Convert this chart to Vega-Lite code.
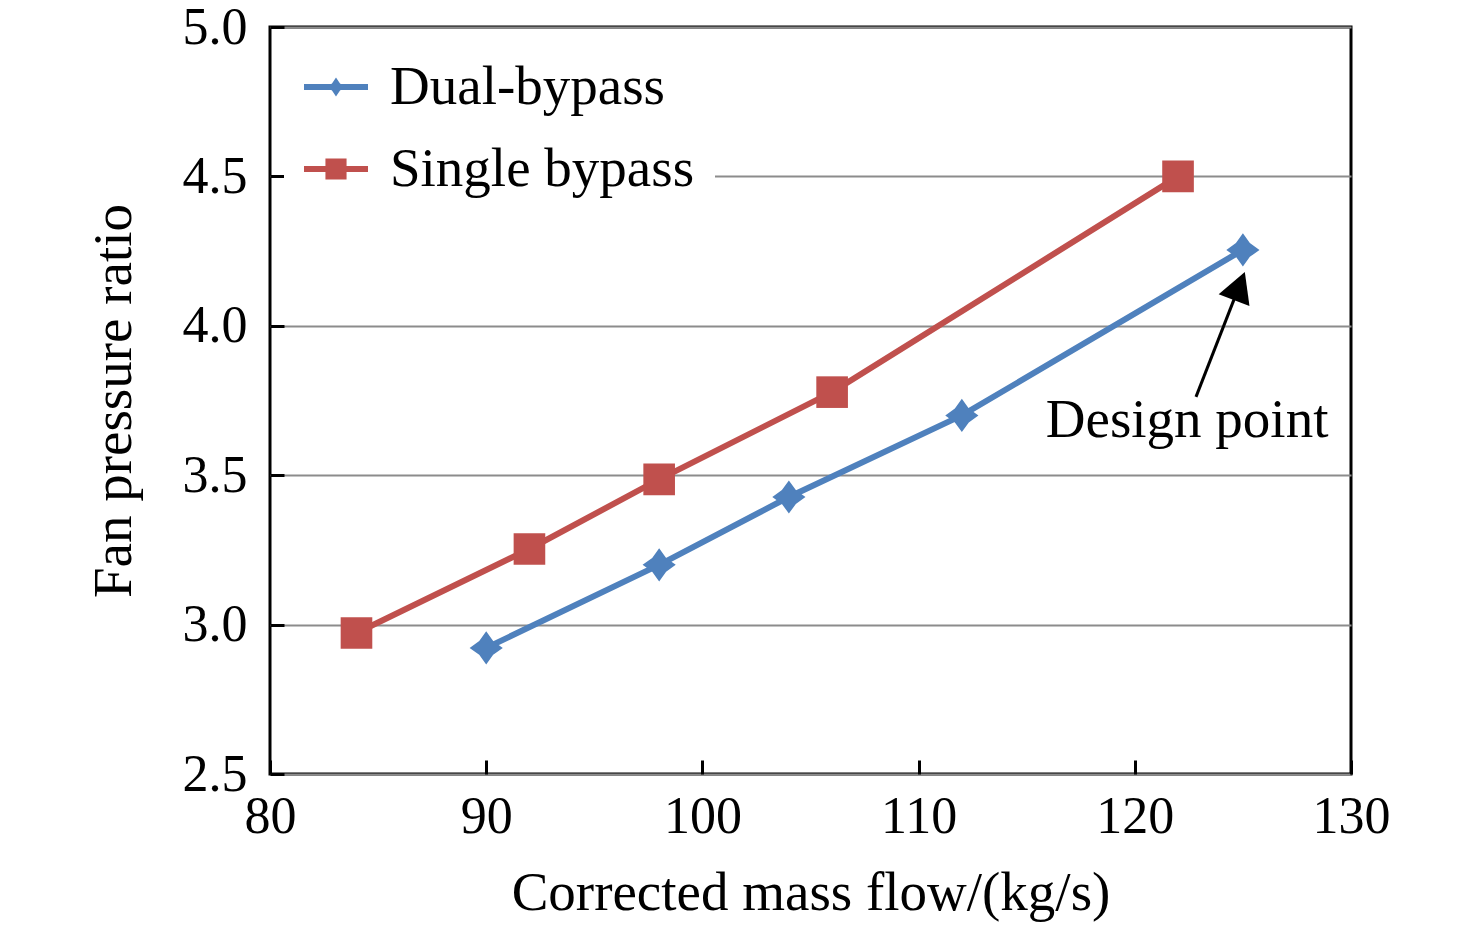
{
  "$schema": "https://vega.github.io/schema/vega-lite/v6.json",
  "autosize": {"type": "none"},
  "padding": {"left": 270, "top": 27, "right": 125, "bottom": 158},
  "width": 1081,
  "height": 747,
  "background": "white",
  "datasets": {
    "flow": [
      {"series": "Dual-bypass", "flow": 90, "ratio": 2.922},
      {"series": "Dual-bypass", "flow": 98, "ratio": 3.2},
      {"series": "Dual-bypass", "flow": 104, "ratio": 3.427},
      {"series": "Dual-bypass", "flow": 112, "ratio": 3.7},
      {"series": "Dual-bypass", "flow": 125, "ratio": 4.254},
      {"series": "Single bypass", "flow": 84, "ratio": 2.972},
      {"series": "Single bypass", "flow": 92, "ratio": 3.253},
      {"series": "Single bypass", "flow": 98, "ratio": 3.486},
      {"series": "Single bypass", "flow": 106, "ratio": 3.778},
      {"series": "Single bypass", "flow": 122, "ratio": 4.5}
    ],
    "arrow": [
      {"flow": 122.83, "ratio": 3.762},
      {"flow": 124.6, "ratio": 4.09}
    ],
    "head": [
      {"flow": 124.84, "ratio": 4.133}
    ],
    "note": [
      {"flow": 122.42, "ratio": 3.628, "label": "Design point"}
    ]
  },
  "encoding": {
    "x": {
      "field": "flow",
      "type": "quantitative",
      "scale": {"domain": [80, 130], "nice": false, "zero": false},
      "axis": {
        "title": "Corrected mass flow/(kg/s)",
        "values": [80, 90, 100, 110, 120, 130],
        "grid": false,
        "labelPadding": 31,
        "titlePadding": 24
      }
    },
    "y": {
      "field": "ratio",
      "type": "quantitative",
      "scale": {"domain": [2.5, 5.0], "nice": false, "zero": false},
      "axis": {
        "title": "Fan pressure ratio",
        "values": [2.5, 3.0, 3.5, 4.0, 4.5, 5.0],
        "format": ".1f",
        "grid": true,
        "labelPadding": 37,
        "titlePadding": 40
      }
    }
  },
  "layer": [
    {
      "data": {"name": "flow"},
      "mark": {"type": "line", "strokeWidth": 6},
      "encoding": {
        "color": {
          "field": "series",
          "type": "nominal",
          "scale": {"domain": ["Dual-bypass", "Single bypass"], "range": ["#4F81BD", "#C0504D"]},
          "legend": {
            "title": null,
            "orient": "none",
            "legendX": 14,
            "legendY": 8,
            "padding": 20,
            "fillColor": "white",
            "symbolSize": 4096,
            "labelOffset": 22,
            "rowPadding": 22,
            "encode": {
              "symbols": {
                "update": {
                  "shape": {"signal": "datum.value === 'Dual-bypass' ? 'M-1,-0.09H1V0.09H-1Z M0,-0.3L0.12,-0.12L0.26,0L0.12,0.12L0,0.3L-0.12,0.12L-0.26,0L-0.12,-0.12Z' : 'M-1,-0.09H1V0.09H-1Z M-0.33,-0.33H0.33V0.33H-0.33Z'"},
                  "fill": {"scale": "color", "field": "value"},
                  "fillOpacity": {"value": 1},
                  "stroke": {"value": "transparent"},
                  "strokeWidth": {"value": 0}
                }
              }
            }
          }
        }
      }
    },
    {
      "data": {"name": "flow"},
      "transform": [{"filter": "datum.series === 'Dual-bypass'"}],
      "mark": {"type": "point", "filled": true, "opacity": 1, "size": 1100, "shape": "M0,-1L0.42,-0.42L1,0L0.42,0.42L0,1L-0.42,0.42L-1,0L-0.42,-0.42Z"},
      "encoding": {
        "color": {"field": "series", "type": "nominal"}
      }
    },
    {
      "data": {"name": "flow"},
      "transform": [{"filter": "datum.series === 'Single bypass'"}],
      "mark": {"type": "point", "filled": true, "opacity": 1, "size": 1000, "shape": "square"},
      "encoding": {
        "color": {"field": "series", "type": "nominal"}
      }
    },
    {
      "data": {"name": "arrow"},
      "mark": {"type": "line", "color": "black", "strokeWidth": 3},
      "encoding": {}
    },
    {
      "data": {"name": "head"},
      "mark": {"type": "point", "shape": "M0,-1L1.1,1L-1.1,1Z", "size": 900, "angle": 21, "filled": true, "color": "black", "opacity": 1},
      "encoding": {}
    },
    {
      "data": {"name": "note"},
      "mark": {"type": "text", "font": "Liberation Serif", "fontSize": 55, "align": "center", "baseline": "alphabetic", "color": "black"},
      "encoding": {"text": {"field": "label"}}
    }
  ],
  "config": {
    "view": {"stroke": "black", "strokeWidth": 3},
    "font": "Liberation Serif",
    "axis": {
      "domain": false,
      "ticks": true,
      "tickSize": -14,
      "tickWidth": 3,
      "tickColor": "black",
      "labelFont": "Liberation Serif",
      "labelFontSize": 52,
      "labelColor": "black",
      "titleFont": "Liberation Serif",
      "titleFontSize": 55,
      "titleFontWeight": "normal",
      "titleColor": "black",
      "gridColor": "#8c8c8c",
      "gridWidth": 2,
      "gridOpacity": 1,
      "labelFlush": false,
      "labelOverlap": false
    },
    "legend": {
      "labelFont": "Liberation Serif",
      "labelFontSize": 55,
      "labelColor": "black",
      "labelLimit": 0
    }
  }
}
